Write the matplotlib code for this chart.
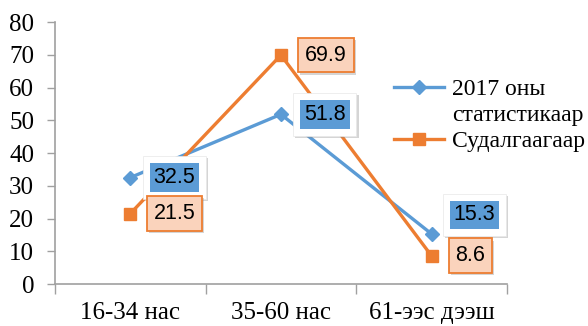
import matplotlib
matplotlib.use("Agg")
import matplotlib.pyplot as plt
import matplotlib.patheffects as pe
from matplotlib.lines import Line2D

categories = ["16-34 нас", "35-60 нас", "61-ээс дээш"]
stat2017 = [32.5, 51.8, 15.3]
survey = [21.5, 69.9, 8.6]
series_names = ["2017 оны\nстатистикаар", "Судалгаагаар"]
yticks = [0, 10, 20, 30, 40, 50, 60, 70, 80]

blue = "#5B9BD5"
orange = "#ED7D31"
serif = "Liberation Serif"

fig = plt.figure(figsize=(5.88, 3.26), dpi=100)
ax = fig.add_axes([0.0935, 0.1288, 0.7685, 0.8037])
x = list(range(len(categories)))

l1, = ax.plot(x, stat2017, color=blue, lw=2.4, marker="D", ms=7.5, label=series_names[0], zorder=3)
l2, = ax.plot(x, survey, color=orange, lw=2.4, marker="s", ms=9, label=series_names[1], zorder=4)

ax.set_xlim(-0.5, 2.5)
ax.set_ylim(0, 80)
ax.set_yticks(yticks)
ax.set_xticks(x)
ax.set_xticklabels(categories, fontfamily=serif, fontsize=18)
ax.set_xticks([-0.5, 0.5, 1.5, 2.5], minor=True)
ax.tick_params(axis="x", which="major", length=0, pad=13)
ax.tick_params(axis="x", which="minor", length=7, color="#A0A0A0", width=1)
ax.tick_params(axis="y", length=6, color="#A0A0A0", width=1, pad=9)
for lab in ax.get_yticklabels():
    lab.set_fontfamily(serif)
    lab.set_fontsize(18)
for s in ["top", "right"]:
    ax.spines[s].set_visible(False)
for s in ["left", "bottom"]:
    ax.spines[s].set_color("#A0A0A0")
    ax.spines[s].set_linewidth(1.2)

shadow = [pe.withSimplePatchShadow(offset=(1.5, -1.5), shadow_rgbFace="#888888", alpha=0.35)]
lfs = 15.5

def blue_label(i, v, dx, dy):
    t0 = ax.annotate(f"{v}", (x[i], v), xytext=(dx, dy), textcoords="offset pixels",
                     ha="center", va="center", fontsize=lfs, fontfamily="Liberation Sans",
                     color="none", zorder=6,
                     bbox=dict(boxstyle="square,pad=0.5", fc="white", ec="#E8E8E8", lw=0.5))
    t0.get_bbox_patch().set_path_effects(shadow)
    ax.annotate(f"{v}", (x[i], v), xytext=(dx, dy), textcoords="offset pixels",
                ha="center", va="center", fontsize=lfs, fontfamily="Liberation Sans",
                color="black", zorder=7,
                bbox=dict(boxstyle="square,pad=0.18", fc=blue, ec="none"))

def orange_label(i, v, dx, dy):
    t = ax.annotate(f"{v}", (x[i], v), xytext=(dx, dy), textcoords="offset pixels",
                    ha="center", va="center", fontsize=lfs, fontfamily="Liberation Sans",
                    color="black", zorder=8,
                    bbox=dict(boxstyle="square,pad=0.32", fc="#FAD3BC", ec=orange, lw=1.3))
    t.get_bbox_patch().set_path_effects(shadow)

blue_label(0, stat2017[0], 44, 0)
blue_label(1, stat2017[1], 44, 0)
blue_label(2, stat2017[2], 43, 19)
orange_label(0, survey[0], 44, 0)
orange_label(1, survey[1], 45, 0)
orange_label(2, survey[2], 39, 0)

first, second = series_names[0].split("\n")
blank = Line2D([], [], color="none")
leg = fig.legend([l1, blank, l2], [first, second, series_names[1]],
                 loc="upper left", bbox_to_anchor=(0.634, 0.825), frameon=False,
                 prop={"family": serif, "size": 17}, handlelength=2.1,
                 handletextpad=0.35, labelspacing=0.2)

fig.savefig("out.png", dpi=100)
